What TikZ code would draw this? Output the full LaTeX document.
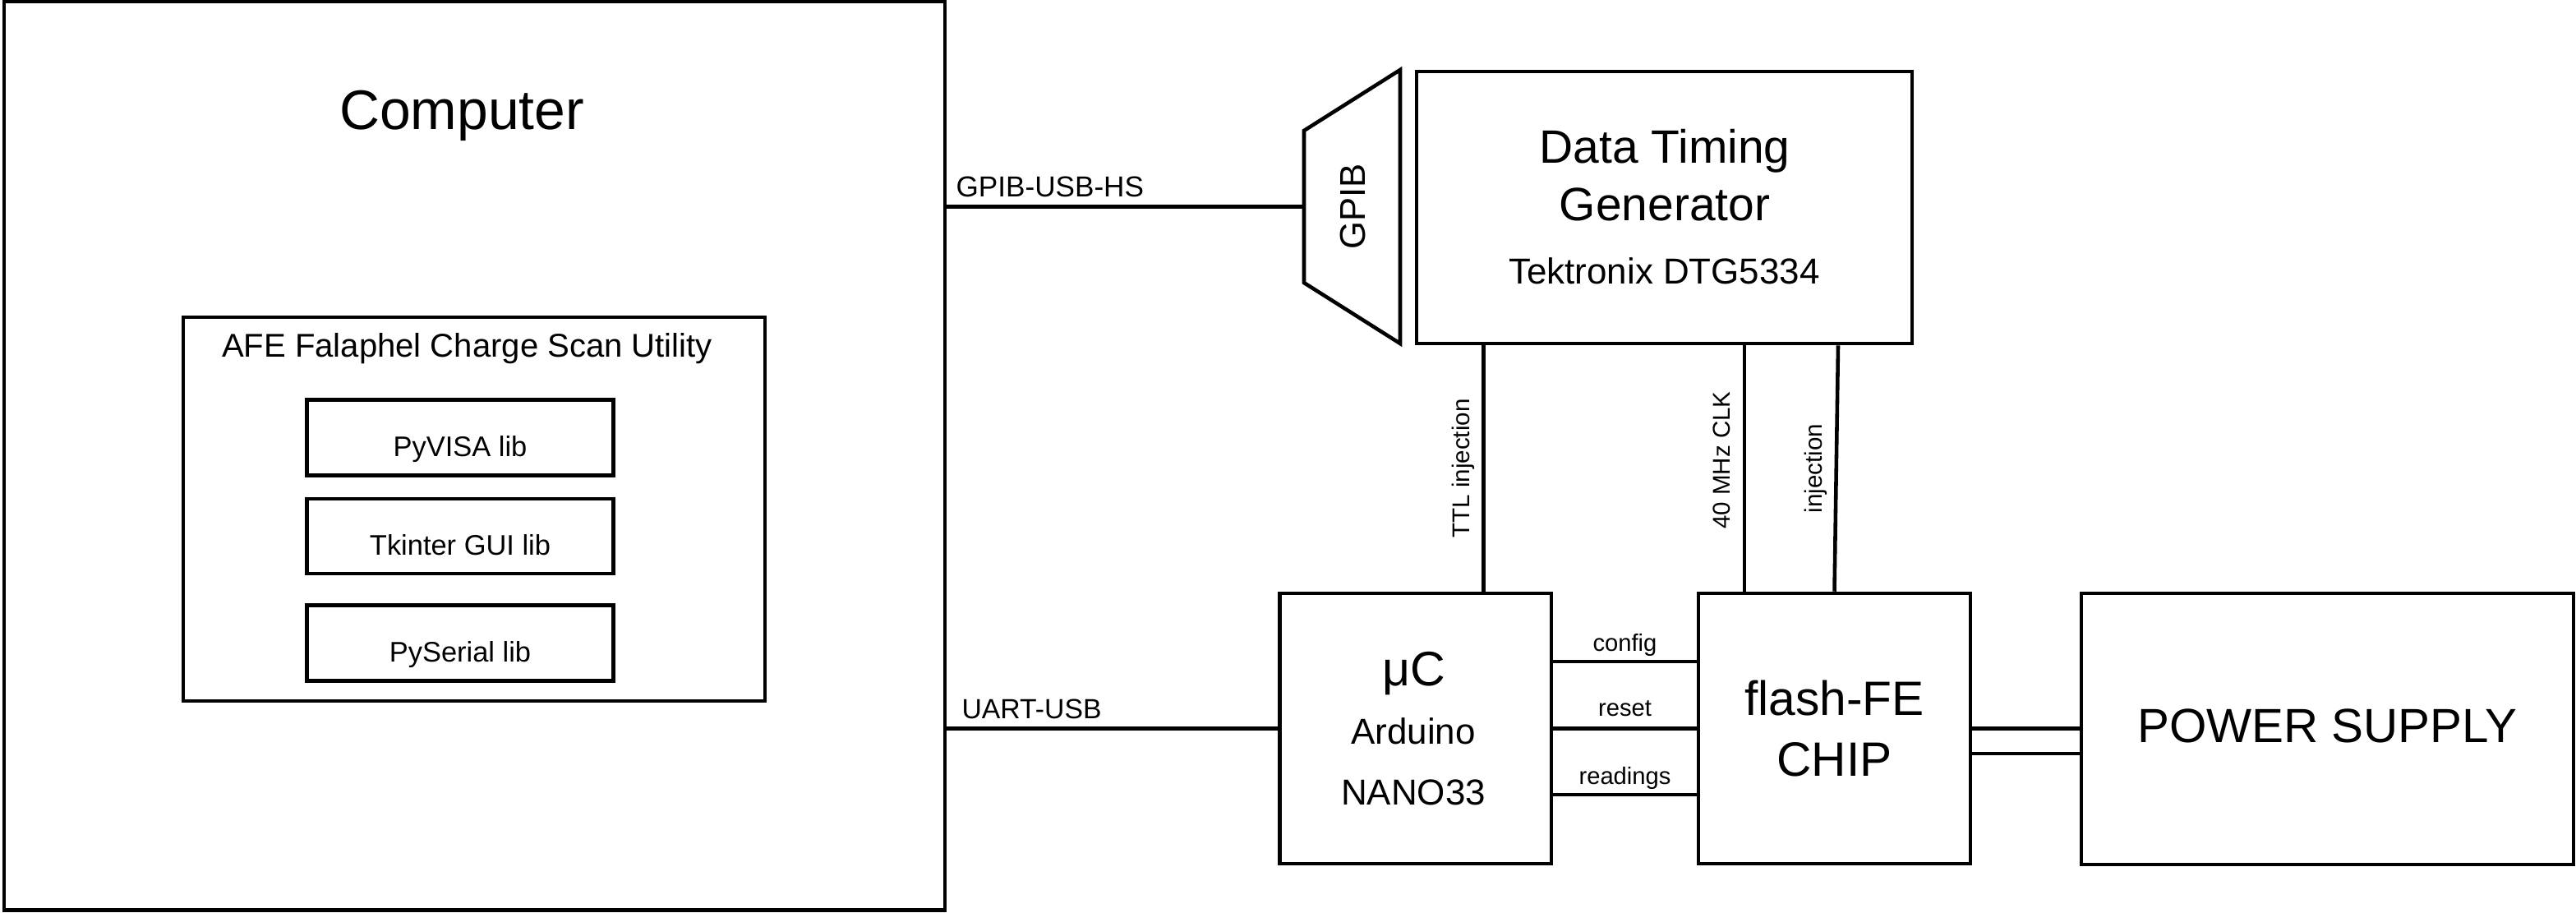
\documentclass[tikz,border=0pt]{standalone}
\usepackage{fontspec}
\setmainfont{Liberation Sans}
\usetikzlibrary{shapes.geometric}

\begin{document}
\begin{tikzpicture}[
    box/.style={draw, line width=1.3pt, inner sep=0pt},
    libbox/.style={box, minimum width=3.73cm, minimum height=0.92cm, text height=0.45cm, text depth=0pt, font=\fontsize{9.8}{11.8}\selectfont},
    unitbox/.style={box, minimum width=3.31cm, minimum height=3.29cm},
    wire/.style={line width=1.3pt},
    vlabel/.style={midway, rotate=90, anchor=south, inner sep=0.15cm, text depth=0pt, font=\fontsize{8.4}{10}\selectfont},
    hlabel/.style={midway, above, inner sep=0.1cm, text depth=0pt, font=\fontsize{8.3}{10}\selectfont},
    portlabel/.style={pos=0, anchor=base west, inner sep=0pt}
  ]
  \useasboundingbox (0,0) rectangle (31.35,-11.10);

  \node[box, minimum width=11.45cm, minimum height=11.055cm] (computer) at (5.775,-5.5475) {};
  \node[anchor=base, font=\fontsize{19.3}{23}\selectfont] (comptitle) at (5.62,-1.57) {Computer};
  \node[box, minimum width=7.08cm, minimum height=4.67cm] (afe) at (5.77,-6.195) {};
  \node[anchor=base, font=\fontsize{11.4}{13.7}\selectfont] (afetitle) at (5.685,-4.34) {AFE Falaphel Charge Scan Utility};
  \node[libbox] (pyvisa) at (5.60,-5.325) {PyVISA lib};
  \node[libbox, minimum height=0.91cm] (tkinter) at (5.60,-6.525) {Tkinter GUI lib};
  \node[libbox] (pyserial) at (5.60,-7.825) {PySerial lib};

  \node[box, trapezium, trapezium left angle=57.7, trapezium right angle=57.7, rotate=90,
        inner xsep=0.405cm, inner ysep=0.43cm, text height=0.31cm, text depth=0pt,
        font=\fontsize{12.4}{15}\selectfont] (gpib) at (16.455,-2.515) {GPIB};
  \node[box, minimum width=6.03cm, minimum height=3.31cm] (dtg) at (20.255,-2.525) {};
  \node[anchor=base, font=\fontsize{16.2}{19.5}\selectfont] (dtgname) at (20.26,-1.98) {Data Timing};
  \node[anchor=base, font=\fontsize{16.2}{19.5}\selectfont] (dtgname2) at (20.26,-2.68) {Generator};
  \node[anchor=base, font=\fontsize{12.5}{15}\selectfont] (dtgmodel) at (20.255,-3.45) {Tektronix DTG5334};

  \node[unitbox, minimum width=3.305cm] (mc) at (17.2275,-8.865) {};
  \node[anchor=base, font=\fontsize{16.8}{20}\selectfont] (mctitle) at (17.21,-8.34) {μC};
  \node[anchor=base, font=\fontsize{12.5}{15}\selectfont] (mcboard) at (17.20,-9.05) {Arduino};
  \node[anchor=base, font=\fontsize{12.5}{15}\selectfont] (mcmodel) at (17.20,-9.79) {NANO33};
  \node[unitbox, align=center, font=\fontsize{16.7}{21}\selectfont] (flash) at (22.325,-8.865) {flash-FE\\CHIP};
  \node[box, minimum width=5.99cm, minimum height=3.3cm, text height=0.32cm, text depth=0pt,
        font=\fontsize{16.6}{19.9}\selectfont] (psu) at (28.325,-8.87) {POWER SUPPLY};

  \draw[wire] (computer.east |- gpib.north) -- (gpib.north)
    node[portlabel, xshift=0.09cm, yshift=0.125cm, font=\fontsize{10}{12}\selectfont] {GPIB-USB-HS};
  \draw[wire] (computer.east |- mc.west) -- (mc.west)
    node[portlabel, xshift=0.16cm, yshift=0.125cm, font=\fontsize{9.6}{11.5}\selectfont] {UART-USB};

  \draw[wire] ([xshift=0.83cm]mc.north) -- ([xshift=0.83cm]mc.north |- dtg.south) node[vlabel] {TTL injection};
  \draw[wire] ([xshift=-1.095cm]flash.north) -- ([xshift=-1.095cm]flash.north |- dtg.south) node[vlabel, pos=0.533] {40 MHz CLK};
  \draw[wire] (flash.north) -- ([xshift=2.115cm]dtg.south) node[vlabel] {injection};

  \draw[wire] ([yshift=0.815cm]mc.east) -- ([yshift=0.815cm]mc.east -| flash.west) node[hlabel] {config};
  \draw[wire] (mc.east) -- (mc.east -| flash.west) node[hlabel, inner sep=0.13cm] {reset};
  \draw[wire] ([yshift=-0.805cm]mc.east) -- ([yshift=-0.805cm]mc.east -| flash.west) node[hlabel] {readings};

  \draw[wire] (flash.east) -- (flash.east -| psu.west);
  \draw[wire] ([yshift=-0.305cm]flash.east) -- ([yshift=-0.305cm]flash.east -| psu.west);
\end{tikzpicture}
\end{document}
